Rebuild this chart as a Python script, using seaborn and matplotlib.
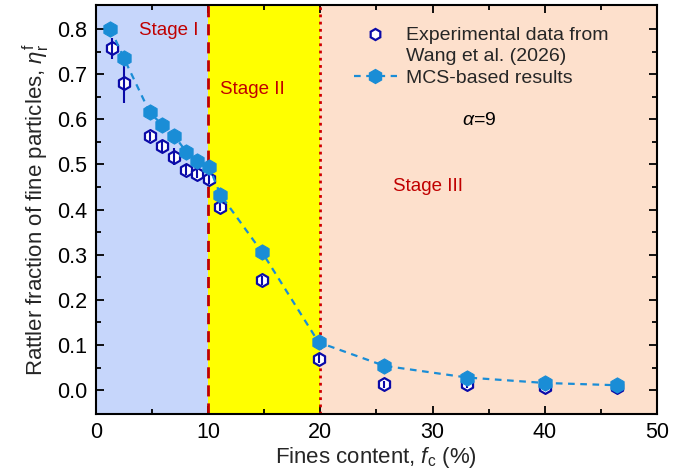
import matplotlib
matplotlib.use("Agg")
import matplotlib.pyplot as plt
import seaborn as sns
import numpy as np
import pandas as pd
from matplotlib.lines import Line2D
from matplotlib.legend_handler import HandlerLine2D

# MCS-based results
fc_mcs = [1.3, 2.5, 4.8, 5.9, 7.0, 8.05, 9.05, 10.1, 11.1, 14.8, 19.85, 25.7, 33.1, 40.0, 46.4]
eta_mcs = [0.800, 0.735, 0.615, 0.588, 0.563, 0.528, 0.508, 0.494, 0.433, 0.306, 0.106, 0.054, 0.028, 0.016, 0.011]

# Experimental data (Wang et al. 2026)
fc_exp = [1.4, 2.5, 4.8, 5.9, 7.0, 8.05, 9.05, 10.1, 11.1, 14.8, 19.85, 25.7, 33.1, 40.0, 46.4]
eta_exp = [0.757, 0.680, 0.562, 0.540, 0.517, 0.488, 0.479, 0.467, 0.406, 0.243, 0.070, 0.013, 0.013, 0.006, 0.006]
err_exp = [0.023, 0.044, 0.010, 0.014, 0.019, 0.012, 0.010, 0.010, 0.010, 0.010, 0.010, 0.008, 0.008, 0.008, 0.008]

stage_edges = [0, 10, 20, 50]
stage_colors = ["#c6d6fb", "#ffff00", "#fde0cc"]

sns.set_theme(style="ticks")
plt.rcParams["font.family"] = ["Liberation Sans", "DejaVu Sans"]
plt.rcParams["mathtext.fontset"] = "custom"
plt.rcParams["mathtext.it"] = "Liberation Sans:italic"
plt.rcParams["mathtext.rm"] = "Liberation Sans"

fig = plt.figure(figsize=(6.85, 4.76), dpi=100)
ax = fig.add_axes([0.140, 0.130, 0.819, 0.8595])

for i in range(3):
    ax.axvspan(stage_edges[i], stage_edges[i + 1], color=stage_colors[i], zorder=0, lw=0)
ax.axvline(10, color="#c00000", ls=(0, (4, 2.5)), lw=2, zorder=1)
ax.axvline(20, color="#d00000", ls=(0, (1, 1.6)), lw=2, zorder=1)

mcs_color = "#1a8dd6"
exp_color = "#0a0aa8"

df_mcs = pd.DataFrame({"fc": fc_mcs, "eta": eta_mcs})
df_exp = pd.DataFrame({"fc": fc_exp, "eta": eta_exp})

ax.errorbar(fc_exp, eta_exp, yerr=err_exp, fmt="none", ecolor=exp_color, elinewidth=1.5, capsize=0, zorder=4)
sns.scatterplot(data=df_exp, x="fc", y="eta", ax=ax, marker="h", s=85, facecolor="white",
                edgecolor=exp_color, linewidth=1.6, zorder=3)
sns.lineplot(data=df_mcs, x="fc", y="eta", ax=ax, color=mcs_color, lw=1.6, zorder=5,
             marker="h", markersize=11, markeredgecolor=mcs_color, markerfacecolor=mcs_color)
ax.lines[-1].set_dashes([3, 2.5])

ax.set_xlim(0, 50)
ax.set_ylim(-0.053, 0.853)
ax.set_xticks([0, 10, 20, 30, 40, 50])
ax.set_yticks([0.0, 0.1, 0.2, 0.3, 0.4, 0.5, 0.6, 0.7, 0.8])
ax.set_xticks(np.arange(5, 50, 10), minor=True)
ax.set_yticks(np.arange(0.05, 0.85, 0.1), minor=True)
ax.tick_params(which="both", direction="in", top=True, right=True, width=1.3, labelsize=15.5,
               colors="black", pad=6)
ax.tick_params(which="major", length=6)
ax.tick_params(which="minor", length=3.5)
for s in ax.spines.values():
    s.set_linewidth(1.5)
    s.set_color("black")
    s.set_zorder(10)

ax.set_xlabel("Fines content, $\\mathit{f}_{\\mathrm{c}}$ (%)", fontsize=16, labelpad=1)
ax.set_ylabel("Rattler fraction of fine particles, $\\mathit{\\eta}_{\\mathrm{r}}^{\\mathrm{f}}$",
              fontsize=16, labelpad=4)

red = "#c00000"
ax.text(3.8, 0.797, "Stage I", color=red, fontsize=13.5, va="center", ha="left")
ax.text(11.1, 0.665, "Stage II", color=red, fontsize=13.5, va="center", ha="left")
ax.text(26.5, 0.452, "Stage III", color=red, fontsize=13.5, va="center", ha="left")
ax.text(34.2, 0.598, "$\\mathit{\\alpha}$=9", color="black", fontsize=14, va="center", ha="center")


class FirstLineHandler(HandlerLine2D):
    def create_artists(self, legend, orig_handle, xdescent, ydescent, width, height, fontsize, trans):
        arts = super().create_artists(legend, orig_handle, xdescent, ydescent, width, height,
                                      fontsize, trans)
        for a in arts:
            a.set_ydata(np.asarray(a.get_ydata(), dtype=float) + 0.62 * fontsize)
        return arts


h1 = Line2D([], [], ls="none", marker="h", markersize=8, markerfacecolor="white",
            markeredgecolor=exp_color, markeredgewidth=1.6)
h2 = Line2D([], [], color=mcs_color, lw=1.6, dashes=[3, 2.5], marker="h", markersize=10,
            markerfacecolor=mcs_color, markeredgecolor=mcs_color)
leg = ax.legend([h1, h2], ["Experimental data from\nWang et al. (2026)", "MCS-based results"],
                loc="upper left", bbox_to_anchor=(0.42, 1.0), frameon=False, fontsize=14,
                handlelength=2.2, handletextpad=0.5, labelspacing=0.2, borderaxespad=0.75,
                handler_map={h1: FirstLineHandler()})
for t in leg.get_texts():
    t.set_linespacing(1.3)

fig.savefig("out.png", dpi=100)
